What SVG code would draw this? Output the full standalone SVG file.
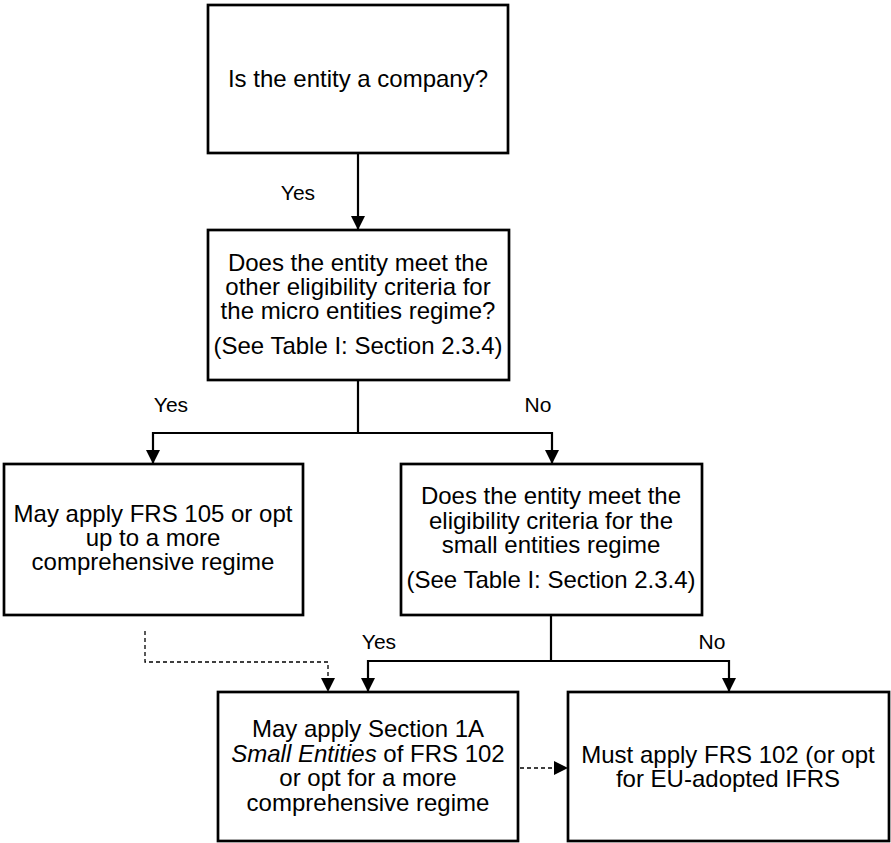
<svg xmlns="http://www.w3.org/2000/svg" width="891" height="843" viewBox="0 0 891 843">
<defs>
<marker id="ah" viewBox="0 0 14 14" refX="14" refY="7" markerWidth="14" markerHeight="14" markerUnits="userSpaceOnUse" orient="auto">
<path d="M0,0 L14,7 L0,14 Z" fill="#000"/>
</marker>
</defs>
<style>
.box{fill:#fff;stroke:#000;stroke-width:2.7}
.t{font-family:"Liberation Sans",Arial,sans-serif;font-size:24px;fill:#000;text-anchor:middle}
.lbl{font-family:"Liberation Sans",Arial,sans-serif;font-size:21px;fill:#000;text-anchor:middle}
.c{fill:none;stroke:#000;stroke-width:2.2}
.d{fill:none;stroke:#000;stroke-width:1.3;stroke-dasharray:4 3}
</style>
<rect width="891" height="843" fill="#fff"/>
<g id="connectors">
<path class="c" d="M358,153 V230" marker-end="url(#ah)"/>
<path class="c" d="M358,380 V433 H153 V464" marker-end="url(#ah)"/>
<path class="c" d="M358,433 H552 V464" marker-end="url(#ah)"/>
<path class="c" d="M551,615 V661 H368 V692" marker-end="url(#ah)"/>
<path class="c" d="M551,661 H729 V692" marker-end="url(#ah)"/>
<path class="d" d="M145,631 V662 H328 V692" marker-end="url(#ah)"/>
<path class="d" d="M520,768 H568" marker-end="url(#ah)"/>
<text class="lbl" x="298" y="200">Yes</text>
<text class="lbl" x="171" y="412">Yes</text>
<text class="lbl" x="538" y="412">No</text>
<text class="lbl" x="379" y="649">Yes</text>
<text class="lbl" x="712" y="649">No</text>
</g>
<g id="q1">
<rect class="box" x="208" y="5" width="300" height="148"/>
<text class="t" x="358" y="87">Is the entity a company?</text>
</g>
<g id="q2">
<rect class="box" x="208" y="230" width="301" height="150"/>
<text class="t" x="358" y="271">Does the entity meet the</text>
<text class="t" x="358" y="295">other eligibility criteria for</text>
<text class="t" x="358" y="319">the micro entities regime?</text>
<text class="t" x="358" y="354">(See Table I: Section 2.3.4)</text>
</g>
<g id="micro">
<rect class="box" x="4" y="464" width="299" height="151"/>
<text class="t" x="153" y="522">May apply FRS 105 or opt</text>
<text class="t" x="153" y="546">up to a more</text>
<text class="t" x="153" y="570">comprehensive regime</text>
</g>
<g id="q3">
<rect class="box" x="401" y="464" width="301" height="151"/>
<text class="t" x="551" y="504">Does the entity meet the</text>
<text class="t" x="551" y="529">eligibility criteria for the</text>
<text class="t" x="551" y="553">small entities regime</text>
<text class="t" x="551" y="588">(See Table I: Section 2.3.4)</text>
</g>
<g id="small">
<rect class="box" x="218" y="692" width="300" height="149"/>
<text class="t" x="368" y="737">May apply Section 1A</text>
<text class="t" x="368" y="762"><tspan font-style="italic">Small Entities</tspan> of FRS 102</text>
<text class="t" x="368" y="786">or opt for a more</text>
<text class="t" x="368" y="811">comprehensive regime</text>
</g>
<g id="frs102">
<rect class="box" x="568" y="692" width="321" height="149"/>
<text class="t" x="728" y="763">Must apply FRS 102 (or opt</text>
<text class="t" x="728" y="787">for EU-adopted IFRS</text>
</g>
</svg>
